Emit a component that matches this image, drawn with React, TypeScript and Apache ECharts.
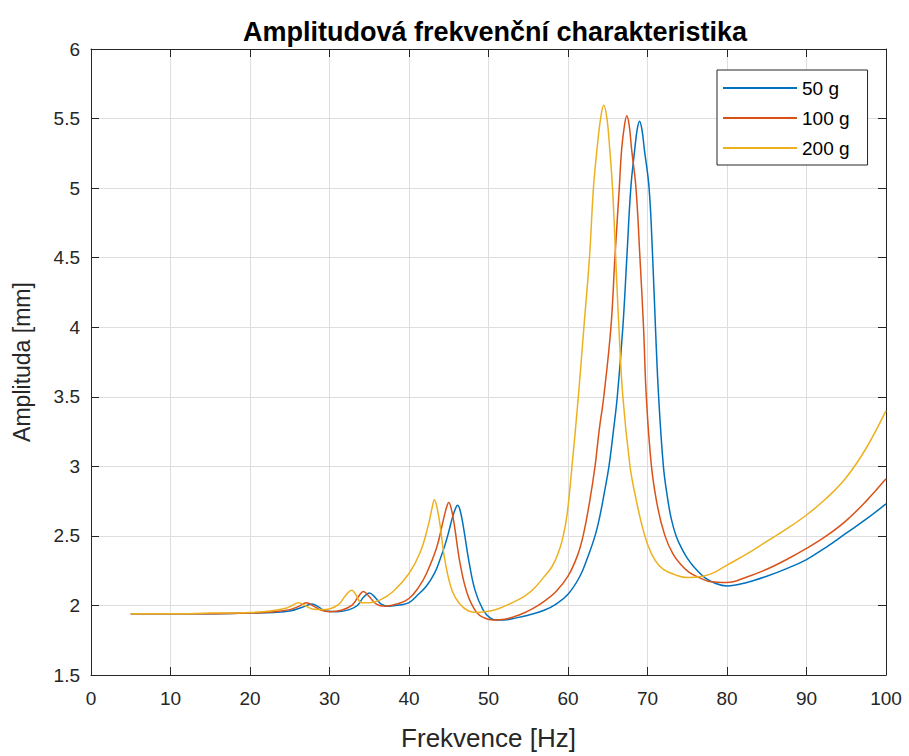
import React, { useEffect, useRef } from "react";
import * as echarts from "echarts";

const titleText = "Amplitudová frekvenční charakteristika";
const xName = "Frekvence [Hz]";
const yName = "Amplituda [mm]";
const seriesNames = ["50 g", "100 g", "200 g"];
const seriesColors = ["#0072BD", "#D95319", "#EDB120"];

const freq50 = [5, 10, 15, 20, 23, 25, 26.5, 27.8, 28.6, 29.5, 31, 32.5, 33.5, 34.3, 35, 35.7, 36.5, 37.5, 39, 40, 41, 42.2, 43.2, 43.9, 44.5, 45, 45.5, 45.8, 46.1, 46.4, 46.8, 47.5, 48.3, 49.3, 50.2, 51, 52, 53, 55, 57, 58.5, 60, 61.5, 62.5, 63.4, 64.0, 64.6, 65.15, 65.7, 66.2, 66.9, 67.4, 67.9, 68.4, 68.7, 69.0, 69.3, 69.6, 70.2, 70.65, 71.0, 71.4, 72.0, 72.5, 73.0, 73.6, 74.3, 75.0, 75.8, 77.2, 78.5, 80, 82.5, 85, 87.5, 90, 92.5, 95, 97.5, 100];
const amp50 = [1.94, 1.94, 1.94, 1.945, 1.95, 1.96, 1.985, 2.01, 1.99, 1.96, 1.955, 1.97, 2.0, 2.06, 2.09, 2.06, 2.01, 1.995, 2.005, 2.02, 2.07, 2.14, 2.23, 2.33, 2.43, 2.53, 2.64, 2.69, 2.72, 2.69, 2.58, 2.33, 2.11, 1.97, 1.91, 1.895, 1.895, 1.905, 1.93, 1.965, 2.01, 2.08, 2.21, 2.35, 2.5, 2.64, 2.82, 3.0, 3.25, 3.5, 4.0, 4.5, 5.0, 5.28, 5.42, 5.48, 5.42, 5.28, 5.0, 4.5, 4.0, 3.5, 3.0, 2.78, 2.62, 2.5, 2.41, 2.34, 2.28, 2.2, 2.16, 2.14, 2.165, 2.21, 2.265, 2.33, 2.42, 2.52, 2.62, 2.73];

const freq100 = [5, 10, 15, 20, 23, 25, 26.2, 27.1, 28, 29, 30, 31.5, 32.8, 33.6, 34.25, 34.9, 35.9, 37, 38.5, 40, 41.2, 42.2, 43.5, 44.3, 44.7, 45.0, 45.3, 45.7, 46.4, 47.3, 48.5, 49.5, 50.6, 52, 54, 55.5, 57, 58.5, 60, 61.2, 61.9, 62.7, 63.4, 63.9, 64.5, 65.4, 65.9, 66.45, 66.75, 67.1, 67.4, 67.7, 68.0, 68.55, 69.05, 69.5, 69.85, 70.5, 71.3, 72.2, 73.2, 74.1, 75.2, 76.5, 78, 80, 82.5, 85, 87.5, 90, 92.5, 95, 97.5, 100];
const amp100 = [1.94, 1.94, 1.94, 1.945, 1.955, 1.97, 1.995, 2.02, 1.995, 1.965, 1.955, 1.965, 2.0, 2.06, 2.1, 2.07, 2.01, 1.995, 2.01, 2.05, 2.13, 2.23, 2.42, 2.61, 2.7, 2.74, 2.7, 2.58, 2.31, 2.09, 1.95, 1.91, 1.895, 1.9, 1.935, 1.975, 2.03, 2.1, 2.21, 2.36, 2.5, 2.74, 3.0, 3.25, 3.5, 4.0, 4.5, 5.0, 5.28, 5.45, 5.52, 5.45, 5.28, 5.0, 4.5, 4.0, 3.5, 3.0, 2.7, 2.5, 2.37, 2.3, 2.24, 2.2, 2.17, 2.165, 2.205, 2.26, 2.33, 2.41, 2.5, 2.61, 2.75, 2.91];

const freq200 = [5, 10, 15, 20, 22.5, 24.5, 25.3, 26.1, 26.9, 27.8, 29, 30, 31.2, 32, 32.8, 33.4, 34, 35, 36.4, 38, 40, 41.4, 42.4, 42.9, 43.2, 43.5, 43.9, 44.5, 45.4, 46.4, 47.5, 48.5, 50.2, 51.4, 53, 54.5, 55.7, 56.9, 58.0, 58.8, 59.4, 59.9, 60.5, 61.3, 62.0, 62.7, 63.2, 63.65, 64.1, 64.5, 64.9, 65.25, 65.6, 66.0, 66.4, 66.9, 67.8, 68.5, 69.2, 70.0, 71.0, 72.0, 73.5, 75.0, 77.0, 78.5, 80, 82.5, 85, 87.5, 90, 92.5, 95, 97.5, 100];
const amp200 = [1.94, 1.94, 1.945, 1.95, 1.96, 1.98, 2.0, 2.02, 2.0, 1.975, 1.97, 1.975, 2.01, 2.07, 2.11, 2.07, 2.02, 2.02, 2.04, 2.1, 2.23, 2.38, 2.57, 2.7, 2.76, 2.71, 2.58, 2.33, 2.11, 2.01, 1.96, 1.95, 1.96, 1.98, 2.02, 2.065, 2.12, 2.2, 2.28, 2.38, 2.5, 2.66, 3.0, 3.5, 4.0, 4.5, 5.0, 5.28, 5.5, 5.595, 5.5, 5.28, 5.0, 4.5, 4.0, 3.5, 3.0, 2.78, 2.6, 2.44, 2.32, 2.26, 2.22, 2.2, 2.21, 2.24, 2.29, 2.37, 2.46, 2.55, 2.65, 2.77, 2.92, 3.13, 3.4];

const allFreq = [freq50, freq100, freq200];
const allAmp = [amp50, amp100, amp200];

const FONT = "'Liberation Sans', Arial, Helvetica, sans-serif";
const AXIS_COLOR = "#262626";

export default function App() {
  const ref = useRef<HTMLDivElement>(null);
  useEffect(() => {
    if (!ref.current) return;
    const chart = echarts.init(ref.current, undefined, { renderer: "svg" });
    const axisCommon = {
      type: "value" as const,
      axisLine: { show: true, onZero: false, lineStyle: { color: AXIS_COLOR, width: 1 } },
      axisTick: { show: true, inside: true, length: 8, lineStyle: { color: AXIS_COLOR } },
    };
    chart.setOption({
      animation: false,
      backgroundColor: "#ffffff",
      textStyle: { fontFamily: FONT },
      title: {
        text: titleText,
        left: 490,
        top: 13,
        textAlign: "center",
        textStyle: { fontFamily: FONT, fontSize: 27, fontWeight: "bold", color: "#000000" },
      },
      legend: {
        orient: "vertical",
        left: 717,
        top: 70,
        itemWidth: 74,
        itemHeight: 2,
        itemGap: 10,
        padding: [8, 18, 7, 6],
        backgroundColor: "#ffffff",
        borderColor: AXIS_COLOR,
        borderWidth: 1,
        borderRadius: 0,
        icon: "rect",
        textStyle: { fontFamily: FONT, fontSize: 19, color: "#000000", lineHeight: 20 },
        data: seriesNames,
      },
      grid: { left: 91, right: 23, top: 49, bottom: 77, containLabel: false },
      xAxis: [
        {
          ...axisCommon,
          position: "bottom",
          min: 0,
          max: 100,
          interval: 10,
          name: xName,
          nameLocation: "middle",
          nameGap: 50,
          nameTextStyle: { fontFamily: FONT, fontSize: 26, color: AXIS_COLOR },
          axisLabel: { fontFamily: FONT, fontSize: 19, color: AXIS_COLOR, margin: 14 },
          splitLine: { show: true, lineStyle: { color: "#dedede", width: 1 } },
        },
        {
          ...axisCommon,
          position: "top",
          min: 0,
          max: 100,
          interval: 10,
          axisLabel: { show: false },
          splitLine: { show: false },
        },
      ],
      yAxis: [
        {
          ...axisCommon,
          position: "left",
          min: 1.5,
          max: 6,
          interval: 0.5,
          name: yName,
          nameLocation: "middle",
          nameGap: 58,
          nameTextStyle: { fontFamily: FONT, fontSize: 23, color: AXIS_COLOR },
          axisLabel: { fontFamily: FONT, fontSize: 19, color: AXIS_COLOR, margin: 11 },
          splitLine: { show: true, lineStyle: { color: "#dedede", width: 1 } },
        },
        {
          ...axisCommon,
          position: "right",
          min: 1.5,
          max: 6,
          interval: 0.5,
          axisLabel: { show: false },
          splitLine: { show: false },
        },
      ],
      series: seriesNames.map((name, k) => ({
        name,
        type: "line",
        xAxisIndex: 0,
        yAxisIndex: 0,
        showSymbol: false,
        symbol: "none",
        smooth: 0.4,
        lineStyle: { color: seriesColors[k], width: 1.5 },
        itemStyle: { color: seriesColors[k] },
        data: allFreq[k].map((f, i) => [f, allAmp[k][i]]),
      })),
    });
    return () => chart.dispose();
  }, []);
  return <div ref={ref} style={{ width: 909, height: 756, position: "absolute", left: 0, top: 0 }} />;
}
